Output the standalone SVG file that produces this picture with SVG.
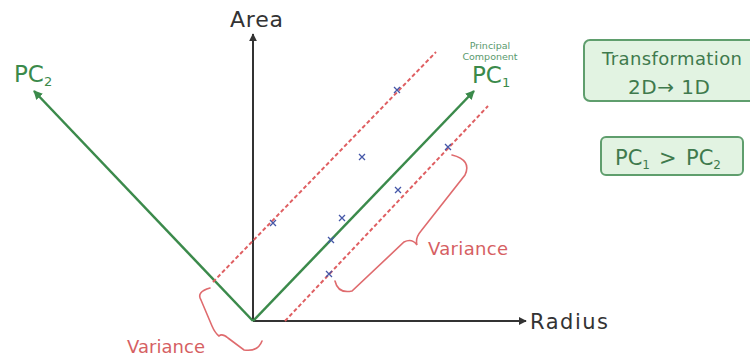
<svg xmlns="http://www.w3.org/2000/svg" width="750" height="358" viewBox="0 0 750 358">
<defs>
<style>
.t{font-family:"DejaVu Sans","Open Sans","Liberation Sans",sans-serif}
.axis{stroke:#333;stroke-width:2;fill:none}
.pc{stroke:#3b8a4b;stroke-width:2.5;fill:none}
.dash{stroke:#df5f62;stroke-width:2;stroke-dasharray:4 2.5;fill:none}
.brace{stroke:#df6b6e;stroke-width:1.6;fill:none;stroke-linecap:round}
.x{stroke:#4557a8;stroke-width:1.3;fill:none}
.box{fill:#e2f3e2;stroke:#5f9e6d;stroke-width:2}
.bt{fill:#3f7a4d}
.var{fill:#d65f63;font-size:18px}
</style>
<marker id="ak" viewBox="0 0 10 10" refX="9" refY="5" markerWidth="4" markerHeight="4" orient="auto-start-reverse"><path d="M0,0 L10,5 L0,10 z" fill="#333"/></marker>
<marker id="ag" viewBox="0 0 10 10" refX="9" refY="5" markerWidth="3.6" markerHeight="3.6" orient="auto-start-reverse"><path d="M0,0 L10,5 L0,10 z" fill="#3b8a4b"/></marker>
<path id="xm" d="M-3,-3 L3,3 M3,-3 L-3,3" class="x"/>
</defs>
<rect width="750" height="358" fill="#fff"/>
<g id="connectors">
<line class="axis" x1="253" y1="321" x2="253" y2="34" marker-end="url(#ak)"/>
<line class="axis" x1="253" y1="321" x2="526" y2="321" marker-end="url(#ak)"/>
<line class="pc" x1="253" y1="321" x2="474" y2="91" marker-end="url(#ag)"/>
<line class="pc" x1="253" y1="321" x2="34" y2="91" marker-end="url(#ag)"/>
<line class="dash" x1="213" y1="282" x2="436" y2="52"/>
<line class="dash" x1="285" y1="321" x2="488" y2="106"/>
</g>
<g id="points">
<use href="#xm" x="397" y="90"/>
<use href="#xm" x="362" y="157"/>
<use href="#xm" x="448" y="147"/>
<use href="#xm" x="398" y="190"/>
<use href="#xm" x="273" y="223"/>
<use href="#xm" x="342" y="218"/>
<use href="#xm" x="331" y="240"/>
<use href="#xm" x="329" y="274"/>
</g>
<g id="braces">
<path class="brace" d="M452,155 Q472,160 465,175 L421,231 Q415,238 417,245 Q412,238 404,242 L352,291 Q338,294 335,281"/>
<path class="brace" d="M210,288 Q196,292 201,300 L212,326 Q215,333 219,336 Q222,333 228,338 L244,350 Q258,352 262,341"/>
</g>
<g id="labels" class="t">
<text x="230" y="27" font-size="22" textLength="53" fill="#333">Area</text>
<text x="530" y="329" font-size="21" textLength="78" fill="#333">Radius</text>
<text x="14" y="82" font-size="23" fill="#3b8a4b">PC<tspan font-size="13" dy="4">2</tspan></text>
<text x="472" y="83" font-size="23" fill="#3b8a4b">PC<tspan font-size="13" dy="4">1</tspan></text>
<text x="490" y="49" font-size="9.5" text-anchor="middle" fill="#5a9a6e">Principal</text>
<text x="490" y="60" font-size="9.5" text-anchor="middle" fill="#5a9a6e">Component</text>
<text class="var" x="428" y="255" textLength="80">Variance</text>
<text class="var" x="127" y="353" textLength="78">Variance</text>
</g>
<g id="box-transform">
<rect class="box" x="584" y="40" width="176" height="61" rx="6"/>
<text class="t bt" x="602" y="65" font-size="18" textLength="140">Transformation</text>
<text class="t bt" x="628" y="94" font-size="20" textLength="82">2D→ 1D</text>
</g>
<g id="box-compare">
<rect class="box" x="601" y="137" width="142" height="38" rx="5"/>
<text class="t bt" x="615" y="165" font-size="21">PC<tspan font-size="12" dy="4">1</tspan><tspan x="659" dy="-4">&gt;</tspan><tspan x="686">PC</tspan><tspan font-size="12" dy="4">2</tspan></text>
</g>
</svg>
